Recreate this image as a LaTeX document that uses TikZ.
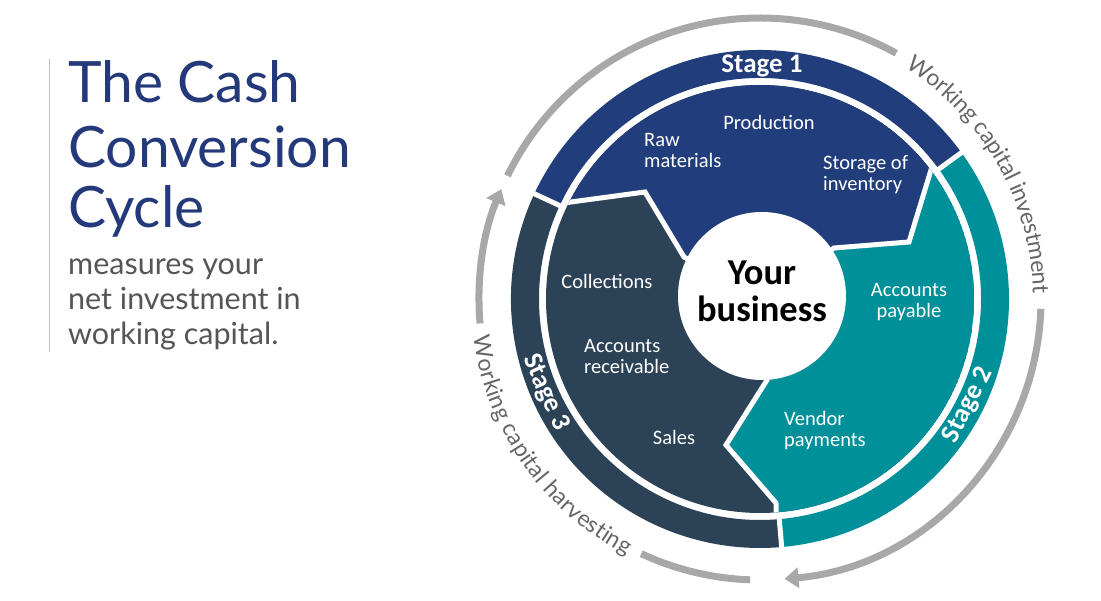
\documentclass[tikz,border=0pt]{standalone}
\usepackage{fontspec}
\setmainfont{Carlito}
\newfontfamily\latofam{Lato}
\usetikzlibrary{arrows.meta,decorations.text}
\definecolor{sone}{HTML}{213D7B}
\definecolor{stwo}{HTML}{00909A}
\definecolor{sthree}{HTML}{2C4257}
\definecolor{titc}{HTML}{23397A}
\definecolor{subc}{HTML}{555555}
\definecolor{arcg}{HTML}{A8A8A8}
\definecolor{txtg}{HTML}{666666}
\begin{document}
\begin{tikzpicture}[x=1pt,y=1pt,
  lab/.style={text=white,font=\fontsize{20.5}{21.5}\selectfont,align=left,inner sep=0pt},
  stg/.style={text=white,font=\bfseries\fontsize{27}{27}\selectfont,inner sep=0pt},
  garc/.style={draw=arcg,line width=7pt},
  sep/.style={draw=white,line width=5pt},
  ttl/.style={anchor=base west,inner sep=0pt,text=titc,font=\latofam\fontsize{57}{57}\selectfont},
  sub/.style={anchor=base west,inner sep=0pt,text=subc,font=\latofam\fontsize{30.5}{30.5}\selectfont}]
\useasboundingbox[fill=white] (-760,-302) rectangle (341,299);
% left text
\draw[draw=black!25,line width=1pt] (-710,240) -- (-710,-53);
\node[ttl] (t1) at (-692,196) {The Cash};
\node[ttl] (t2) at (-692,131) {Conversion};
\node[ttl] (t3) at (-692,71) {Cycle};
\node[sub] (s1) at (-692,24) {measures your};
\node[sub] (s2) at (-692,-11) {net investment in};
\node[sub] (s3) at (-692,-46) {working capital.};
% outer band
\fill[sone] (36:249) arc[start angle=36,end angle=155,radius=249] -- (155:221) arc[start angle=155,end angle=36,radius=221] -- cycle;
\fill[stwo] (-85:249) arc[start angle=-85,end angle=36,radius=249] -- (36:221) arc[start angle=36,end angle=-85,radius=221] -- cycle;
\fill[sthree] (155:249) arc[start angle=155,end angle=275,radius=249] -- (275:221) arc[start angle=275,end angle=155,radius=221] -- cycle;
\foreach \a in {36,155,275} \draw[sep] (\a:215) -- (\a:255);
% inner disk
\begin{scope}
\clip (0,0) circle[radius=214];
\fill[sthree] (0,0) circle[radius=214];
\fill[sone] (0,0)--(-76,42)--(-115,107)--(-300,82)--(-300,300)--(300,300)--(200,224)--(149,57)--(74,51)--cycle;
\fill[stwo] (0,0)--(74,51)--(149,57)--(200,224)--(300,224)--(300,-300)--(18,-300)--(16,-204)--(-34,-146)--(7,-81)--cycle;
\draw[sep,line join=miter] (-300,82)--(-115,107)--(-76,42)--(0,0);
\draw[sep,line join=miter] (200,224)--(149,57)--(74,51)--(0,0);
\draw[sep,line join=miter] (0,0)--(7,-81)--(-34,-146)--(16,-204)--(18,-300);
\end{scope}
\fill[white] (2,3) circle[radius=84];
\node[font=\bfseries\fontsize{36.5}{37}\selectfont,align=center,inner sep=0pt] (yb) at (2,8) {Your\\business};
% labels
\node[lab,anchor=north west] (raw) at (-116,166) {Raw\\materials};
\node[lab] (prod) at (9,177) {Production};
\node[lab,anchor=north west] (stor) at (63,144) {Storage of\\inventory};
\node[lab] (coll) at (-153,18) {Collections};
\node[lab,anchor=north west] (ar) at (-176,-40) {Accounts\\receivable};
\node[lab] (sales) at (-86,-138) {Sales};
\node[lab,align=center] (ap) at (149,-3) {Accounts\\payable};
\node[lab,anchor=north west] (vp) at (24,-112) {Vendor\\payments};
\node[stg] (st1) at (2,233) {Stage 1};
\node[stg,rotate=63] (st2) at (-27:234) {Stage 2};
\node[stg,rotate=-66] (st3) at (203.6:234) {Stage 3};
% grey arcs
\draw[garc,-{Triangle[length=14pt,width=20pt]}] (185:281) arc[start angle=185,end angle=157,radius=281];
\draw[garc] (154:281) arc[start angle=154,end angle=61,radius=281];
\draw[garc,-{Triangle[length=14pt,width=20pt]}] (-2:281) arc[start angle=-2,end angle=-85,radius=281];
\draw[garc] (245:281) arc[start angle=245,end angle=268,radius=281];
\path[decorate,decoration={text along path,raise=-8pt,text align=center,
  text={|\latofam\fontsize{23}{23}\selectfont\color{txtg}|Working capital investment}}]
  (60:281) arc[start angle=60,end angle=-1,radius=281];
\path[decorate,decoration={text along path,raise=-8pt,text align=center,
  text={|\latofam\fontsize{23}{23}\selectfont\color{txtg}|Working capital harvesting}}]
  (185:281) arc[start angle=185,end angle=245,radius=281];
\end{tikzpicture}
\end{document}
